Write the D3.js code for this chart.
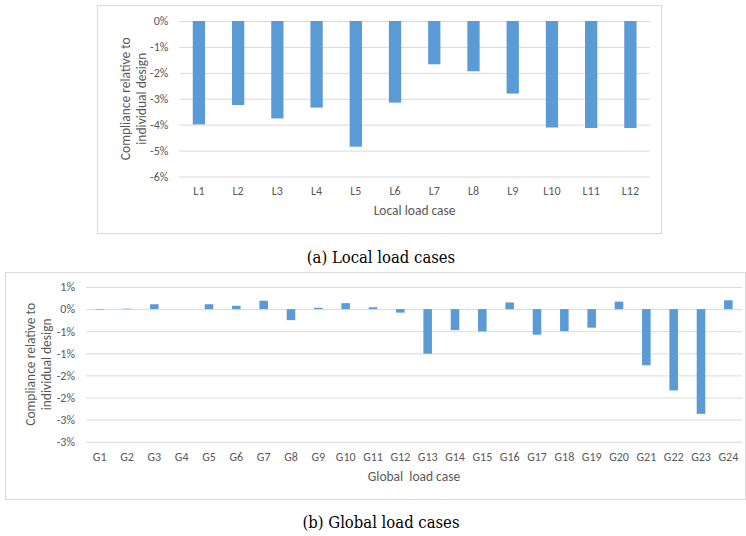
<!DOCTYPE html>
<html>
<head>
<meta charset="utf-8">
<script src="https://cdn.jsdelivr.net/npm/d3@7"></script>
<style>
  html, body { margin: 0; padding: 0; background: #ffffff; }
  svg { display: block; }
  .lbl { font-family: Carlito, Calibri, Lato, sans-serif; fill: #595959; }
  .cap { font-family: Charter, "Bitstream Charter", "DejaVu Serif Condensed", "Liberation Serif", serif; fill: #000; }
</style>
</head>
<body>
<svg id="fig" width="746" height="536"></svg>
<script>
// Local load cases (compliance change, %)
const localCases = ["L1","L2","L3","L4","L5","L6","L7","L8","L9","L10","L11","L12"];
const localValues = [-3.99, -3.24, -3.76, -3.34, -4.85, -3.15, -1.67, -1.94, -2.80, -4.11, -4.13, -4.13];
const localTicks = [0, -1, -2, -3, -4, -5, -6];
const localTickLabels = ["0%","-1%","-2%","-3%","-4%","-5%","-6%"];

// Global load cases (compliance change, %)
const globalCases = ["G1","G2","G3","G4","G5","G6","G7","G8","G9","G10","G11","G12",
                     "G13","G14","G15","G16","G17","G18","G19","G20","G21","G22","G23","G24"];
const globalValues = [-0.01, 0.01, 0.11, 0.0, 0.11, 0.075, 0.19, -0.25, 0.03, 0.135, 0.04, -0.08,
                      -1.01, -0.475, -0.505, 0.15, -0.58, -0.50, -0.42, 0.17, -1.27, -1.84, -2.37, 0.20];
const globalTicks = [0.5, 0, -0.5, -1, -1.5, -2, -2.5, -3];
const globalTickLabels = ["1%","0%","-1%","-1%","-2%","-2%","-3%","-3%"];

const yTitleLines = ["Compliance relative to", "individual design"];

const svg = d3.select("#fig");
svg.append("rect").attr("width", 746).attr("height", 536).attr("fill", "#fff");

function drawPanel(cfg) {
  const g = svg.append("g");
  // outer chart frame
  g.append("rect")
    .attr("x", cfg.box[0]).attr("y", cfg.box[1])
    .attr("width", cfg.box[2] - cfg.box[0]).attr("height", cfg.box[3] - cfg.box[1])
    .attr("fill", "#fff").attr("stroke", "#d9d9d9").attr("stroke-width", 1);

  const x = d3.scaleBand().domain(cfg.cats).range([cfg.plot[0], cfg.plot[1]])
    .paddingInner(0.687).paddingOuter(0.3435);
  const slot = d3.scaleBand().domain(cfg.cats).range([cfg.plot[0], cfg.plot[1]]);
  const y = d3.scaleLinear().domain(cfg.domain).range([cfg.plot[3], cfg.plot[2]]);

  // horizontal gridlines
  const grid = d3.axisLeft(y).tickValues(cfg.ticks)
    .tickSize(-(cfg.plot[1] - cfg.plot[0])).tickFormat("");
  const gg = g.append("g").attr("transform", `translate(${cfg.plot[0]},0)`).call(grid);
  gg.select(".domain").remove();
  gg.selectAll(".tick line").attr("stroke", "#d9d9d9").attr("stroke-width", 1);

  // y tick labels
  const ya = d3.axisLeft(y).tickValues(cfg.ticks).tickSize(0).tickPadding(11)
    .tickFormat((d, i) => cfg.tickLabels[i]);
  const yg = g.append("g").attr("transform", `translate(${cfg.plot[0]},0)`).call(ya);
  yg.select(".domain").remove();
  yg.selectAll("text").attr("class", "lbl").attr("font-size", cfg.tickSize)
    .attr("fill", "#595959").attr("font-family", null);

  // bars
  g.append("g").selectAll("rect").data(cfg.values).join("rect")
    .attr("x", (d, i) => x(cfg.cats[i]))
    .attr("width", x.bandwidth())
    .attr("y", d => y(Math.max(0, d)))
    .attr("height", d => Math.abs(y(d) - y(0)))
    .attr("fill", "#5b9bd5");

  // x category labels
  const xa = d3.axisBottom(slot).tickSize(0).tickPadding(0);
  const xg = g.append("g").attr("transform", `translate(0,${cfg.xLabelY})`).call(xa);
  xg.select(".domain").remove();
  xg.selectAll("text").attr("class", "lbl").attr("font-size", cfg.tickSize)
    .attr("fill", "#595959").attr("font-family", null).attr("dy", "0.35em");

  // x axis title
  g.append("text").attr("class", "lbl")
    .attr("x", (cfg.plot[0] + cfg.plot[1]) / 2).attr("y", cfg.xTitleY)
    .attr("dy", "0.35em").attr("text-anchor", "middle")
    .attr("font-size", cfg.titleSize).style("white-space", "pre")
    .text(cfg.xTitle);

  // y axis title, two lines
  const cy = (cfg.plot[2] + cfg.plot[3]) / 2;
  yTitleLines.forEach((t, i) => {
    g.append("text").attr("class", "lbl")
      .attr("transform", `translate(${cfg.yTitleX[i]},${cy}) rotate(-90)`)
      .attr("dy", "0.35em").attr("text-anchor", "middle")
      .attr("font-size", cfg.titleSize).text(t);
  });

  // caption
  svg.append("text").attr("class", "cap")
    .attr("x", cfg.caption[1]).attr("y", cfg.caption[2])
    .attr("text-anchor", "middle").attr("font-size", 16.5)
    .text(cfg.caption[0]);
}

drawPanel({
  cats: localCases, values: localValues, ticks: localTicks, tickLabels: localTickLabels,
  domain: [-6, 0],
  box: [97.5, 5.5, 661.5, 233.5],
  plot: [179.3, 650, 21, 176.5],
  xLabelY: 190.7, xTitleY: 210.5, yTitleX: [125, 141],
  xTitle: "Local load case",
  tickSize: 12, titleSize: 13.5,
  caption: ["(a) Local load cases", 381, 263]
});

drawPanel({
  cats: globalCases, values: globalValues, ticks: globalTicks, tickLabels: globalTickLabels,
  domain: [-3, 0.5],
  box: [5.5, 272.5, 745.5, 499.5],
  plot: [86, 742, 287, 441.7],
  xLabelY: 456.7, xTitleY: 476, yTitleX: [30.7, 46.7],
  xTitle: "Global  load case",
  tickSize: 12, titleSize: 13.5,
  caption: ["(b) Global load cases", 381, 528]
});
</script>
</body>
</html>
